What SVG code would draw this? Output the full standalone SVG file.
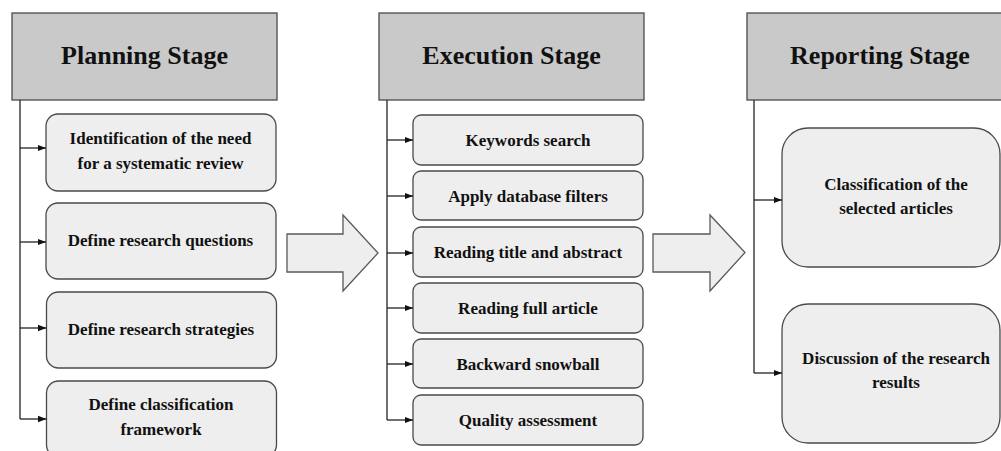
<svg xmlns="http://www.w3.org/2000/svg" width="1001" height="451" viewBox="0 0 1001 451">
<defs>
<marker id="ah" markerWidth="9" markerHeight="8" refX="8.5" refY="4" orient="auto" markerUnits="userSpaceOnUse">
<path d="M0,0.8 L8.5,4 L0,7.2 Z" fill="#111"/>
</marker>
</defs>
<style>
.hdr{fill:#c9c9c9;stroke:#4a4a4a;stroke-width:1.3}
.box{fill:#eeeeee;stroke:#4a4a4a;stroke-width:1.3}
.big{fill:#eeeeee;stroke:#5a5a5a;stroke-width:1.3}
.ttl{font-family:"Liberation Serif","Times New Roman",serif;font-weight:bold;font-size:26px;fill:#111;text-anchor:middle}
.lbl{font-family:"Liberation Serif","Times New Roman",serif;font-weight:bold;font-size:17px;fill:#111;text-anchor:middle}
.con{fill:none;stroke:#222;stroke-width:1.3}
</style>
<rect width="1001" height="451" fill="#fff"/>

<g id="planning-header"><rect class="hdr" x="12" y="13" width="265" height="87"/><text class="ttl" x="144.5" y="64">Planning Stage</text></g>
<g id="execution-header"><rect class="hdr" x="379" y="13" width="265" height="87"/><text class="ttl" x="511.5" y="64">Execution Stage</text></g>
<g id="reporting-header"><rect class="hdr" x="747" y="13" width="266" height="87"/><text class="ttl" x="880" y="64">Reporting Stage</text></g>

<g id="p1"><rect class="box" x="46" y="114" width="230" height="77" rx="12"/><text class="lbl" x="160.5" y="144">Identification of the need</text><text class="lbl" x="160.5" y="169">for a systematic review</text></g>
<g id="p2"><rect class="box" x="46" y="203" width="230" height="76" rx="12"/><text class="lbl" x="160.5" y="246">Define research questions</text></g>
<g id="p3"><rect class="box" x="46.5" y="292" width="230" height="76" rx="12"/><text class="lbl" x="161" y="335">Define research strategies</text></g>
<g id="p4"><rect class="box" x="46.5" y="381" width="230" height="76" rx="12"/><text class="lbl" x="161" y="410">Define classification</text><text class="lbl" x="161" y="435">framework</text></g>

<g id="e1"><rect class="box" x="413" y="115" width="230" height="50" rx="8"/><text class="lbl" x="528" y="146">Keywords search</text></g>
<g id="e2"><rect class="box" x="413" y="171" width="230" height="49" rx="8"/><text class="lbl" x="528" y="201.5">Apply database filters</text></g>
<g id="e3"><rect class="box" x="413" y="227" width="230" height="50" rx="8"/><text class="lbl" x="528" y="258">Reading title and abstract</text></g>
<g id="e4"><rect class="box" x="413" y="283" width="230" height="50" rx="8"/><text class="lbl" x="528" y="314">Reading full article</text></g>
<g id="e5"><rect class="box" x="413" y="339" width="230" height="49" rx="8"/><text class="lbl" x="528" y="369.5">Backward snowball</text></g>
<g id="e6"><rect class="box" x="413" y="395" width="230" height="50" rx="8"/><text class="lbl" x="528" y="426">Quality assessment</text></g>

<g id="r1"><rect class="box" x="782" y="128" width="218" height="139" rx="26"/><text class="lbl" x="896" y="190">Classification of the</text><text class="lbl" x="896" y="214">selected articles</text></g>
<g id="r2"><rect class="box" x="782" y="304" width="218" height="139" rx="26"/><text class="lbl" x="896" y="364">Discussion of the research</text><text class="lbl" x="896" y="388">results</text></g>

<g id="flow1"><polygon class="big" points="287,234 343,234 343,215 378,253 343,291 343,272 287,272"/></g>
<g id="flow2"><polygon class="big" points="653,234 710,234 710,215 745,252.5 710,291 710,272 653,272"/></g>

<g id="connectors">
<path class="con" d="M20,100 V419"/>
<path class="con" d="M20,148 H46" marker-end="url(#ah)"/>
<path class="con" d="M20,242 H46" marker-end="url(#ah)"/>
<path class="con" d="M20,328 H46.5" marker-end="url(#ah)"/>
<path class="con" d="M20,419 H46.5" marker-end="url(#ah)"/>
<path class="con" d="M387,100 V420"/>
<path class="con" d="M387,140 H413" marker-end="url(#ah)"/>
<path class="con" d="M387,196 H413" marker-end="url(#ah)"/>
<path class="con" d="M387,253 H413" marker-end="url(#ah)"/>
<path class="con" d="M387,308 H413" marker-end="url(#ah)"/>
<path class="con" d="M387,364 H413" marker-end="url(#ah)"/>
<path class="con" d="M387,420 H413" marker-end="url(#ah)"/>
<path class="con" d="M754,100 V373"/>
<path class="con" d="M754,200 H782" marker-end="url(#ah)"/>
<path class="con" d="M754,373 H782" marker-end="url(#ah)"/>
</g>
</svg>
